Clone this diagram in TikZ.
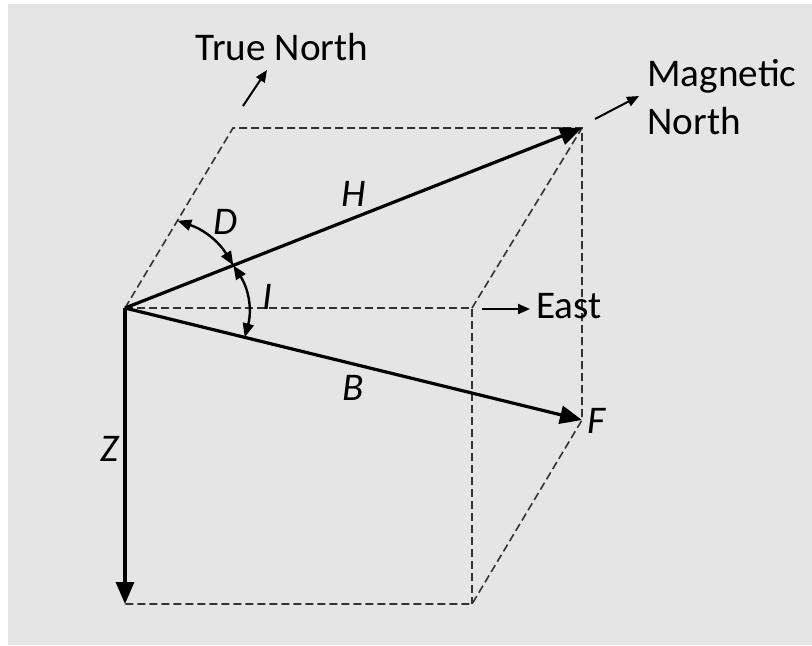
\documentclass[tikz,border=0pt]{standalone}
\usepackage{fontspec}
\setmainfont{Carlito}
\usetikzlibrary{arrows.meta,calc}

\begin{document}
\begin{tikzpicture}[
  x=0.5pt, y=-0.5pt,
  font=\fontsize{19.6}{24}\selectfont,
  edge/.style={dash pattern=on 4pt off 2pt, line width=0.8pt, black!80},
  vec/.style={-{Triangle[length=11pt,width=9pt]}, line width=1.6pt},
  dir/.style={-{Triangle[length=6pt,width=5pt]}, line width=1pt},
  ang/.style={{Triangle[length=7pt,width=5.5pt]}-{Triangle[length=7pt,width=5.5pt]}, line width=1.2pt},
  lbl/.style={inner sep=1pt, font=\fontsize{19.6}{24}\selectfont\itshape}
]
\useasboundingbox (0,0) rectangle (812,645);
\fill[gray!20] (8,4) rectangle (812,645);

% corners of the box
\coordinate (O) at (125,308);
\coordinate (east) at (472,308);
\coordinate (down) at (125,604);
\coordinate (base) at (472,604);
\coordinate (tn) at (233,128);
\coordinate (mn) at (582,128);
\coordinate (F) at (582,420);

\draw[edge] (O) -- (tn) -- (mn) -- (F) -- (base) -- (down);
\draw[edge] (O) -- (east) -- (base);
\draw[edge] (east) -- (mn);

% field vectors
\draw[vec] (O) -- (mn) node[lbl, midway, above=4pt] (Hlbl) {H};
\draw[vec] (O) -- (F) node[lbl, midway, below=4pt] (Blbl) {B};
\draw[vec] (O) -- (down) node[lbl, pos=0.476, left=1.5pt] (Zlbl) {Z};
\node[lbl, anchor=base west, inner sep=0] (Flbl) at (587,433) {F};

% angles
\coordinate (d1) at ($(O)!0.485!(tn)$);
\coordinate (d2) at ($(O)!0.237!(mn)$);
\coordinate (i2) at ($(O)!0.262!(F)$);
\draw[ang] (d1) to[bend left=20] node[lbl, above right] (Dlbl) {D} (d2);
\draw[ang] (d2) to[bend left=24] node[lbl, pos=0.45, right=6pt] (Ilbl) {I} (i2);

% directions
\node[anchor=base west, inner sep=0] (truenorth) at (195,60) {True North};
\coordinate (tn0) at (243,106);
\coordinate (tn1) at (267,70);
\draw[dir] (tn0) -- (tn1);

\node[anchor=north west, align=left, inner sep=0] (magnorth) at (647,59) {Magnetic\\North};
\coordinate (mn0) at (595,119);
\coordinate (mn1) at (639,96);
\draw[dir] (mn0) -- (mn1);

\node[anchor=base west, inner sep=0] (eastlbl) at (536,318) {East};
\coordinate (e0) at (482,309);
\coordinate (e1) at (530,309);
\draw[dir] (e0) -- (e1);
\end{tikzpicture}
\end{document}
